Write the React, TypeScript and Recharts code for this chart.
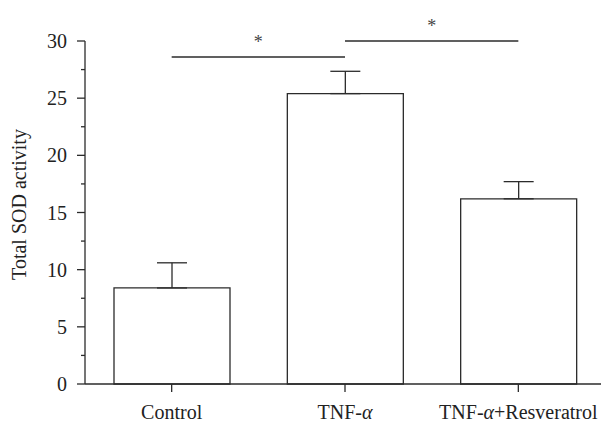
import React from "react";
import { BarChart, Bar, XAxis, YAxis, ErrorBar, ReferenceLine } from "recharts";

const GROUPS = ["Control", "TNF-α", "TNF-α+Resveratrol"];
const SOD_MEANS = [8.4, 25.4, 16.2];
const SOD_ERRORS = [2.2, 1.95, 1.5];
const Y_TICKS = [0, 2.5, 5, 7.5, 10, 12.5, 15, 17.5, 20, 22.5, 25, 27.5, 30];
const SIG_FROM = ["Control", "TNF-α"];
const SIG_TO = ["TNF-α", "TNF-α+Resveratrol"];
const SIG_LEVELS = [28.6, 30];
const SIG_MARKS = ["*", "*"];

const data = GROUPS.map((group, i) => ({
  group,
  mean: SOD_MEANS[i],
  err: [0, SOD_ERRORS[i]],
}));

const INK = "#2b2b2b";
const FONT = "Liberation Serif, DejaVu Serif, serif";
const textStyle = { fontFamily: FONT };

const YTick = (props: any) => {
  const { x, y, payload } = props;
  const v = payload.value;
  const major = v % 5 === 0;
  return (
    <g>
      <line x1={x - (major ? 8 : 4)} x2={x} y1={y} y2={y} stroke={INK} strokeWidth={1.3} />
      {major && (
        <text x={x - 18} y={y} dy="0.35em" textAnchor="end" fill="#222" fontSize={20} style={textStyle}>
          {v}
        </text>
      )}
    </g>
  );
};

const XTick = (props: any) => {
  const { x, y, payload } = props;
  const parts = String(payload.value).split("α");
  return (
    <text x={x} y={y} dy="0.71em" textAnchor="middle" fill="#222" fontSize={20} style={textStyle}>
      {parts.map((p, i) => (
        <React.Fragment key={i}>
          {i > 0 && <tspan fontStyle="italic">α</tspan>}
          <tspan>{p}</tspan>
        </React.Fragment>
      ))}
    </text>
  );
};

const YLabel = (props: any) => {
  const vb = props.viewBox || { x: 0, y: 41, width: 85, height: 343 };
  const cx = 19;
  const cy = vb.y + vb.height / 2 - 8;
  return (
    <text
      x={cx}
      y={cy}
      transform={`rotate(-90, ${cx}, ${cy})`}
      textAnchor="middle"
      dominantBaseline="central"
      fill="#222"
      fontSize={20}
      style={textStyle}
    >
      Total SOD activity
    </text>
  );
};

export default function App() {
  return (
    <div
      style={{
        position: "absolute",
        left: 0,
        top: 0,
        width: 601,
        height: 423,
        overflow: "hidden",
        background: "#fff",
      }}
    >
      <BarChart
        width={605}
        height={423}
        data={data}
        margin={{ top: 41, right: 0, left: 0, bottom: 0 }}
      >
        <XAxis
          dataKey="group"
          height={39}
          axisLine={{ stroke: INK, strokeWidth: 1.3 }}
          tickLine={{ stroke: INK, strokeWidth: 1.3 }}
          tickSize={8}
          tickMargin={13}
          tick={<XTick />}
          interval={0}
        />
        <YAxis
          width={85}
          domain={[0, 30]}
          ticks={Y_TICKS}
          interval={0}
          axisLine={{ stroke: INK, strokeWidth: 1.3 }}
          tickLine={false}
          tickSize={0}
          tickMargin={0}
          tick={<YTick />}
          label={{ value: "Total SOD activity", content: YLabel }}
        />
        <Bar
          dataKey="mean"
          barSize={116}
          fill="#fff"
          stroke={INK}
          strokeWidth={1.3}
          isAnimationActive={false}
        >
          <ErrorBar dataKey="err" direction="y" width={15} stroke={INK} strokeWidth={1.3} />
        </Bar>
        {SIG_LEVELS.map((level, i) => (
          <ReferenceLine
            key={i}
            segment={[
              { x: SIG_FROM[i], y: level },
              { x: SIG_TO[i], y: level },
            ]}
            stroke={INK}
            strokeWidth={1.3}
            ifOverflow="visible"
            label={{
              value: SIG_MARKS[i],
              position: "top",
              offset: 9,
              fill: "#444",
              fontSize: 18,
              style: textStyle,
            }}
          />
        ))}
      </BarChart>
    </div>
  );
}
